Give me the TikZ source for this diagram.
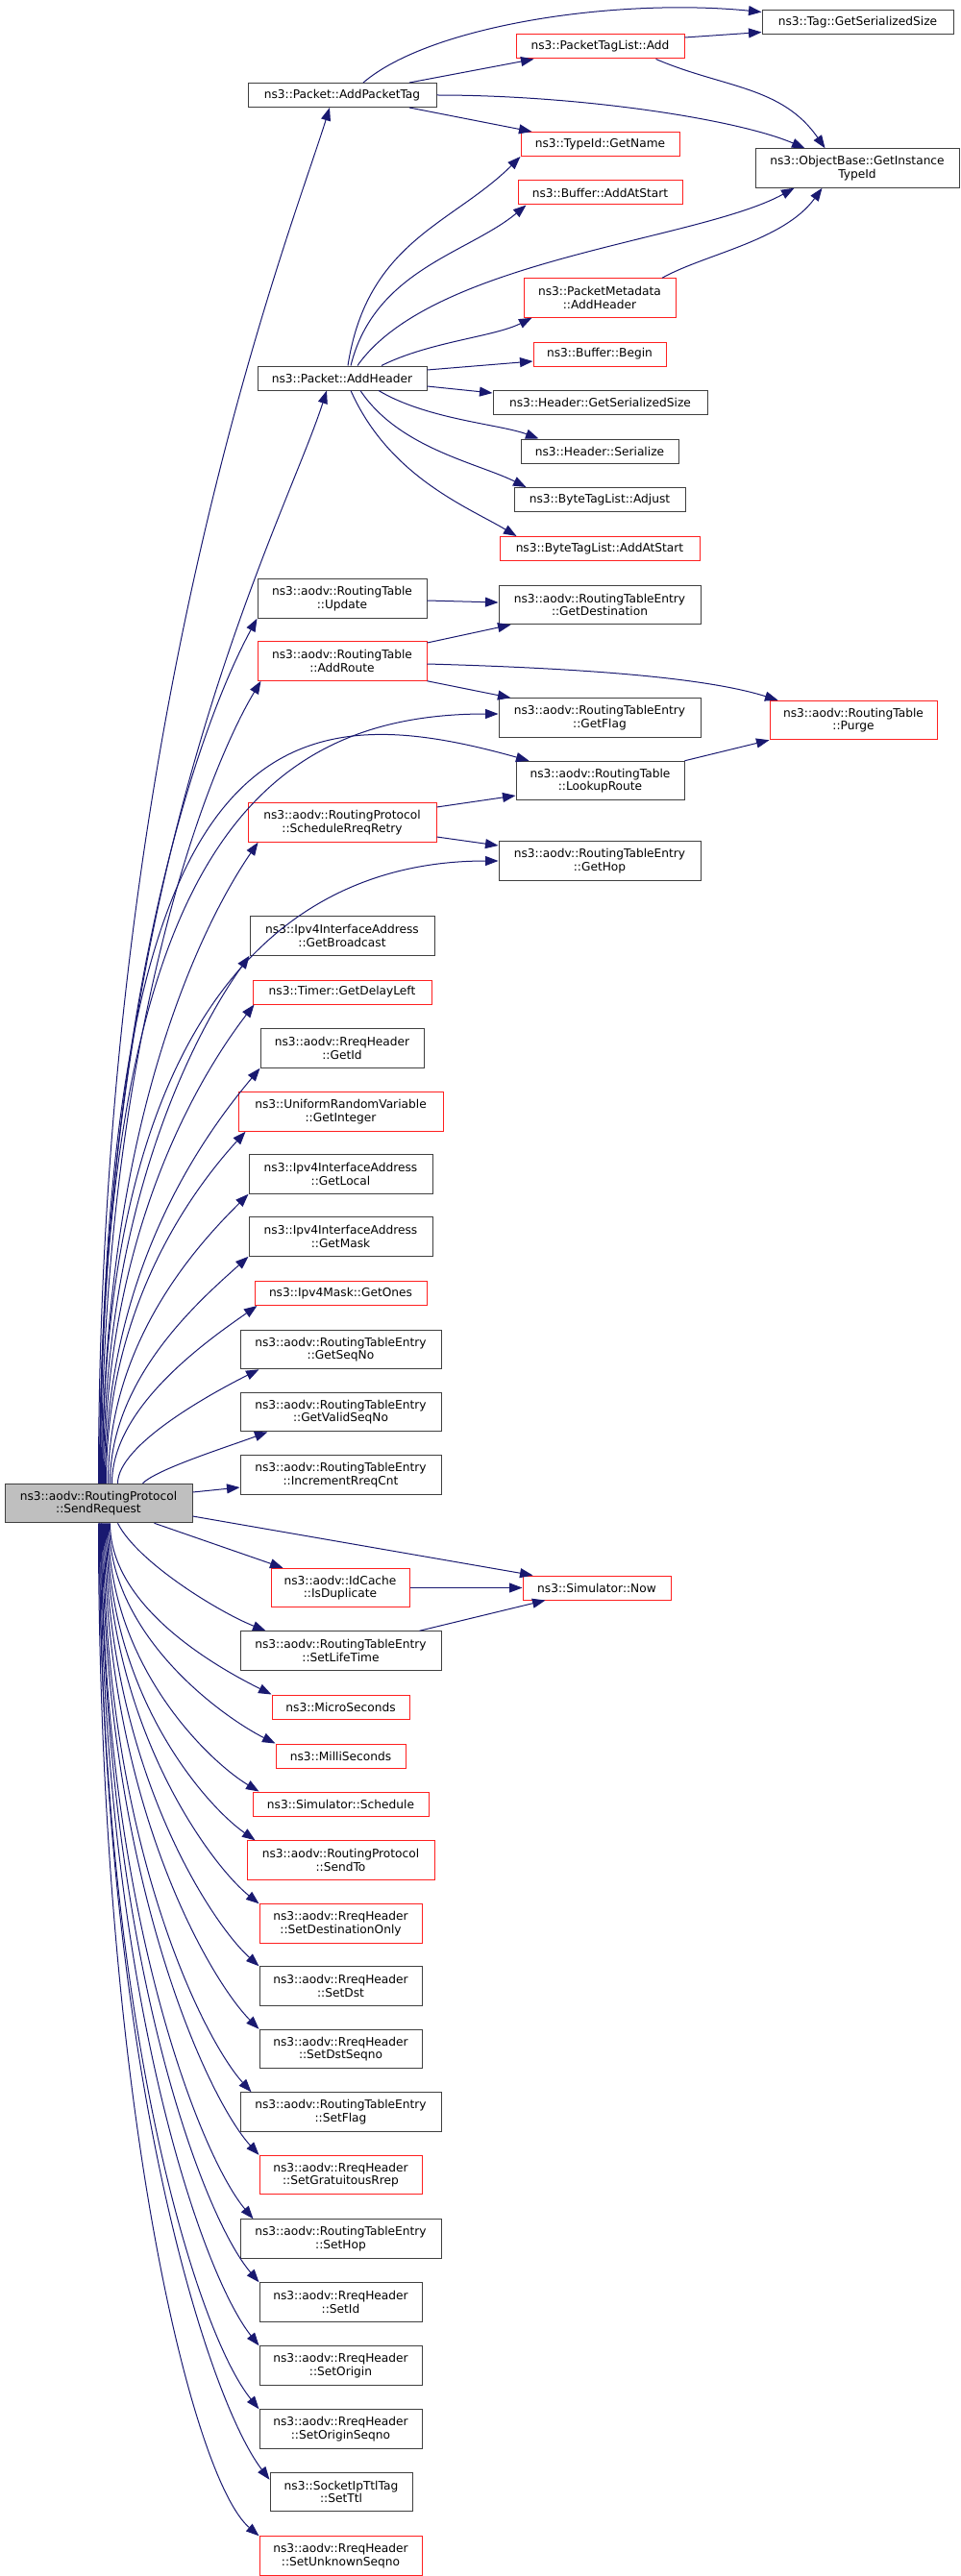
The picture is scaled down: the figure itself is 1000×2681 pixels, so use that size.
\documentclass[tikz,border=0pt]{standalone}
\usepackage{fontspec}
\setmainfont{DejaVu Sans}
\usetikzlibrary{arrows.meta}
\definecolor{edgeblue}{HTML}{191970}
\definecolor{boxgray}{HTML}{BFBFBF}
\definecolor{boxred}{HTML}{FF2020}
\newcommand{\nodefont}{\fontsize{12.2}{13.5}\selectfont}
\tikzset{
  fn/.style={draw=black!75,line width=1pt,inner sep=0pt,minimum height=25pt,align=center,font=\nodefont},
  fnred/.style={fn,draw=boxred},
  fncur/.style={fn,fill=boxgray},
  tall/.style={minimum height=40.5pt},
  call/.style={edgeblue,line width=1pt,-{Triangle[length=13.5pt,width=10pt]}}
}
\begin{document}
\begin{tikzpicture}[x=1pt,y=1pt]
\useasboundingbox (0,0) rectangle (1000,-2681);

%Packet
\begin{scope}
\node[fn,minimum width=199pt] (tagser) at (892.5,-23.5) {ns3::Tag::GetSerializedSize};
\node[fnred,minimum width=175pt] (ptladd) at (624.5,-48.5) {ns3::PacketTagList::Add};
\node[fn,minimum width=196pt] (addtag) at (356,-99) {ns3::Packet::AddPacketTag};
\node[fnred,minimum width=165pt] (getname) at (624.5,-150) {ns3::TypeId::GetName};
\node[fn,tall,minimum width=212pt] (instid) at (892,-175) {ns3::ObjectBase::GetInstance\\TypeId};
\node[fnred,minimum width=171pt] (bufadd) at (624.5,-200.5) {ns3::Buffer::AddAtStart};
\node[fnred,tall,minimum width=158pt] (pmadd) at (624,-310) {ns3::PacketMetadata\\::AddHeader};
\node[fnred,minimum width=138pt] (bufbegin) at (624,-368.5) {ns3::Buffer::Begin};
\node[fn,minimum width=176pt] (addhdr) at (356,-393.5) {ns3::Packet::AddHeader};
\node[fn,minimum width=223pt] (hdrsize) at (624.5,-419) {ns3::Header::GetSerializedSize};
\node[fn,minimum width=164pt] (hdrser) at (624,-469.5) {ns3::Header::Serialize};
\node[fn,minimum width=178pt] (btladj) at (624,-520) {ns3::ByteTagList::Adjust};
\node[fnred,minimum width=208pt] (btladd) at (624,-571) {ns3::ByteTagList::AddAtStart};

\draw[call] ([xshift=22pt]addtag.north) .. controls +(70,60) and +(-150,15) .. ([yshift=-2pt]tagser.north west);
\draw[call] ([xshift=70pt]addtag.north) -- ([xshift=19pt]ptladd.south west);
\draw[call] (addtag.east) .. controls +(150,0) and +(-70,30) .. ([xshift=52pt]instid.north west);
\draw[call] ([xshift=70pt]addtag.south) -- ([xshift=12pt]getname.north west);
\draw[call] ([yshift=9.5pt]ptladd.east) -- ([yshift=3pt]tagser.south west);
\draw[call] ([xshift=58pt]ptladd.south) .. controls +(70,-30) and +(-45,65) .. ([xshift=73pt]instid.north west);
\draw[call] ([xshift=6pt]addhdr.north) .. controls +(20,130) and +(-70,-70) .. (getname.south west);
\draw[call] ([xshift=9pt]addhdr.north) .. controls +(25,100) and +(-60,-50) .. ([xshift=9pt]bufadd.south west);
\draw[call] ([xshift=16pt]addhdr.north) .. controls +(78,111) and +(-100,-55) .. ([xshift=41pt]instid.south west);
\draw[call] ([xshift=65pt]pmadd.north) .. controls +(45,25) and +(-40,-55) .. ([xshift=70pt]instid.south west);
\draw[call] ([xshift=41pt]addhdr.north) .. controls +(50,25) and +(-40,-20) .. ([xshift=9pt]pmadd.south west);
\draw[call] ([yshift=8.5pt]addhdr.east) -- ([yshift=-7.5pt]bufbegin.west);
\draw[call] ([yshift=-8.5pt]addhdr.east) -- ([yshift=10pt]hdrsize.west);
\draw[call] ([xshift=38pt]addhdr.south) .. controls +(50,-30) and +(-40,15) .. ([xshift=19pt]hdrser.north west);
\draw[call] ([xshift=19pt]addhdr.south) .. controls +(40,-60) and +(-50,25) .. ([xshift=13pt]btladj.north west);
\draw[call] ([xshift=9pt]addhdr.south) .. controls +(40,-90) and +(-50,30) .. ([xshift=18pt]btladd.north west);
\end{scope}

%RoutingTable
\begin{scope}
\node[fn,tall,minimum width=176pt] (rtupd) at (356,-623) {ns3::aodv::RoutingTable\\::Update};
\node[fn,tall,minimum width=210pt] (getdest) at (624,-629.5) {ns3::aodv::RoutingTableEntry\\::GetDestination};
\node[fnred,tall,minimum width=176pt] (rtadd) at (356,-688) {ns3::aodv::RoutingTable\\::AddRoute};
\node[fn,tall,minimum width=210pt] (getflag) at (624,-747) {ns3::aodv::RoutingTableEntry\\::GetFlag};
\node[fnred,tall,minimum width=174pt] (purge) at (888,-749.5) {ns3::aodv::RoutingTable\\::Purge};
\node[fn,tall,minimum width=175pt] (lookup) at (624.5,-812.5) {ns3::aodv::RoutingTable\\::LookupRoute};
\node[fnred,tall,minimum width=196pt] (schedretry) at (356,-856) {ns3::aodv::RoutingProtocol\\::ScheduleRreqRetry};
\node[fn,tall,minimum width=210pt] (gethop) at (624,-896) {ns3::aodv::RoutingTableEntry\\::GetHop};

\draw[call] ([yshift=-2pt]rtupd.east) -- ([yshift=2.5pt]getdest.west);
\draw[call] ([yshift=19pt]rtadd.east) -- ([xshift=13pt]getdest.south west);
\draw[call] ([yshift=-3pt]rtadd.east) .. controls +(180,-5) and +(-70,22) .. ([xshift=9pt]purge.north west);
\draw[call] (rtadd.south east) -- ([xshift=13pt]getflag.north west);
\draw[call] (lookup.north east) -- (purge.south west);
\draw[call] ([yshift=16pt]schedretry.east) -- ([yshift=-15.5pt]lookup.west);
\draw[call] ([yshift=-15pt]schedretry.east) -- ([yshift=16pt]gethop.west);
\end{scope}

%left column
\node[fn,tall,minimum width=192pt] (getbcast) at (356,-974) {ns3::Ipv4InterfaceAddress\\::GetBroadcast};
\node[fnred,minimum width=186pt] (delayleft) at (356,-1032.5) {ns3::Timer::GetDelayLeft};
\node[fn,tall,minimum width=170pt] (getid) at (356,-1091) {ns3::aodv::RreqHeader\\::GetId};
\node[fnred,tall,minimum width=213pt] (getint) at (354.5,-1157) {ns3::UniformRandomVariable\\::GetInteger};
\node[fn,tall,minimum width=191pt] (getlocal) at (354.5,-1222) {ns3::Ipv4InterfaceAddress\\::GetLocal};
\node[fn,tall,minimum width=191pt] (getmask) at (354.5,-1287) {ns3::Ipv4InterfaceAddress\\::GetMask};
\node[fnred,minimum width=179pt] (getones) at (354.5,-1346) {ns3::Ipv4Mask::GetOnes};
\node[fn,tall,minimum width=209pt] (getseq) at (354.5,-1404.5) {ns3::aodv::RoutingTableEntry\\::GetSeqNo};
\node[fn,tall,minimum width=209pt] (getvseq) at (354.5,-1469.5) {ns3::aodv::RoutingTableEntry\\::GetValidSeqNo};
\node[fn,tall,minimum width=209pt] (incrreq) at (354.5,-1535) {ns3::aodv::RoutingTableEntry\\::IncrementRreqCnt};
\node[fncur,tall,minimum width=195pt] (sendreq) at (102.5,-1564.5) {ns3::aodv::RoutingProtocol\\::SendRequest};
\node[fnred,minimum width=154pt] (now) at (621,-1652.5) {ns3::Simulator::Now};
\node[fnred,tall,minimum width=144pt] (isdup) at (354,-1652.5) {ns3::aodv::IdCache\\::IsDuplicate};
\node[fn,tall,minimum width=209pt] (setlife) at (354.5,-1718) {ns3::aodv::RoutingTableEntry\\::SetLifeTime};
\node[fnred,minimum width=143pt] (micro) at (354.5,-1776.5) {ns3::MicroSeconds};
\node[fnred,minimum width=135pt] (milli) at (354.5,-1827.5) {ns3::MilliSeconds};
\node[fnred,minimum width=183pt] (sched) at (354.5,-1877.5) {ns3::Simulator::Schedule};
\node[fnred,tall,minimum width=195pt] (sendto) at (354.5,-1936) {ns3::aodv::RoutingProtocol\\::SendTo};
\node[fnred,tall,minimum width=169pt] (setdonly) at (354.5,-2002) {ns3::aodv::RreqHeader\\::SetDestinationOnly};
\node[fn,tall,minimum width=169pt] (setdst) at (354.5,-2067) {ns3::aodv::RreqHeader\\::SetDst};
\node[fn,tall,minimum width=169pt] (setdseq) at (354.5,-2132.5) {ns3::aodv::RreqHeader\\::SetDstSeqno};
\node[fn,tall,minimum width=209pt] (setflag) at (354.5,-2198) {ns3::aodv::RoutingTableEntry\\::SetFlag};
\node[fnred,tall,minimum width=169pt] (setgrat) at (354.5,-2263.5) {ns3::aodv::RreqHeader\\::SetGratuitousRrep};
\node[fn,tall,minimum width=209pt] (sethop) at (354.5,-2330) {ns3::aodv::RoutingTableEntry\\::SetHop};
\node[fn,tall,minimum width=169pt] (setid) at (354.5,-2396) {ns3::aodv::RreqHeader\\::SetId};
\node[fn,tall,minimum width=169pt] (setorig) at (354.5,-2462) {ns3::aodv::RreqHeader\\::SetOrigin};
\node[fn,tall,minimum width=169pt] (setoseq) at (354.5,-2528) {ns3::aodv::RreqHeader\\::SetOriginSeqno};
\node[fn,tall,minimum width=148pt] (setttl) at (355,-2593.5) {ns3::SocketIpTtlTag\\::SetTtl};
\node[fnred,tall,minimum width=169pt] (setunk) at (354.5,-2660) {ns3::aodv::RreqHeader\\::SetUnknownSeqno};

%calls going up
\draw[call] (sendreq.north) .. controls +(0,800) and +(-40,-130) .. ([xshift=-13pt]addtag.south);
\draw[call] ([xshift=1pt]sendreq.north) .. controls +(0,650) and +(-45,-140) .. ([xshift=-16pt]addhdr.south);
\draw[call] ([xshift=2pt]sendreq.north) .. controls +(0,500) and +(-60,-110) .. (rtupd.south west);
\draw[call] ([xshift=3pt]sendreq.north) .. controls +(0,450) and +(-60,-100) .. ([xshift=4pt]rtadd.south west);
\draw[call] ([xshift=1.5pt]sendreq.north) .. controls +(0,650) and +(-250,0) .. ([yshift=4pt]getflag.west);
\draw[call] ([xshift=2pt]sendreq.north) .. controls +(0,800) and +(-250,70) .. ([xshift=14pt]lookup.north west);
\draw[call] ([xshift=4pt]sendreq.north) .. controls +(0,380) and +(-55,-80) .. ([xshift=11pt]schedretry.south west);
\draw[call] ([xshift=4pt]sendreq.north) .. controls +(0,450) and +(-250,0) .. (gethop.west);
\draw[call] ([xshift=5pt]sendreq.north) .. controls +(0,300) and +(-50,-70) .. (getbcast.south west);
\draw[call] ([xshift=6pt]sendreq.north) .. controls +(0,270) and +(-50,-65) .. ([xshift=2pt]delayleft.south west);
\draw[call] ([xshift=7pt]sendreq.north) .. controls +(0,230) and +(-50,-60) .. (getid.south west);
\draw[call] ([xshift=8pt]sendreq.north) .. controls +(0,190) and +(-50,-55) .. ([xshift=8pt]getint.south west);
\draw[call] ([xshift=10pt]sendreq.north) .. controls +(0,150) and +(-50,-50) .. (getlocal.south west);
\draw[call] ([xshift=12pt]sendreq.north) .. controls +(0,110) and +(-50,-45) .. (getmask.south west);
\draw[call] ([xshift=14pt]sendreq.north) .. controls +(0,80) and +(-50,-35) .. ([xshift=3pt]getones.south west);
\draw[call] ([xshift=20pt]sendreq.north) .. controls +(0,40) and +(-50,-25) .. ([xshift=20pt]getseq.south west);
\draw[call] ([xshift=46pt]sendreq.north) .. controls +(15,15) and +(-40,-15) .. ([xshift=29pt]getvseq.south west);
\draw[call] ([yshift=11.5pt]sendreq.east) -- ([yshift=-13pt]incrreq.west);

%calls going down
\draw[call] ([yshift=-13.5pt]sendreq.east) -- ([xshift=11pt]now.north west);
\draw[call] ([xshift=58pt]sendreq.south) -- ([xshift=13pt]isdup.north west);
\draw[call] (isdup.east) -- (now.west);
\draw[call] ([xshift=-23pt]setlife.north east) -- ([xshift=24pt]now.south west);
\draw[call] ([xshift=20pt]sendreq.south) .. controls +(20,-40) and +(-50,20) .. ([xshift=27pt]setlife.north west);
\draw[call] ([xshift=12pt]sendreq.south) .. controls +(0,-90) and +(-50,25) .. (micro.north west);
\draw[call] ([xshift=11pt]sendreq.south) .. controls +(0,-120) and +(-50,25) .. (milli.north west);
\draw[call] ([xshift=10pt]sendreq.south) .. controls +(0,-150) and +(-50,30) .. ([xshift=7pt]sched.north west);
\draw[call] ([xshift=9pt]sendreq.south) .. controls +(0,-180) and +(-50,35) .. ([xshift=9pt]sendto.north west);
\draw[call] ([xshift=8pt]sendreq.south) .. controls +(0,-210) and +(-50,40) .. (setdonly.north west);
\draw[call] ([xshift=7pt]sendreq.south) .. controls +(0,-250) and +(-50,45) .. (setdst.north west);
\draw[call] ([xshift=6pt]sendreq.south) .. controls +(0,-290) and +(-50,50) .. (setdseq.north west);
\draw[call] ([xshift=5pt]sendreq.south) .. controls +(0,-330) and +(-50,55) .. ([xshift=12pt]setflag.north west);
\draw[call] ([xshift=4pt]sendreq.south) .. controls +(0,-360) and +(-55,60) .. (setgrat.north west);
\draw[call] ([xshift=3pt]sendreq.south) .. controls +(0,-400) and +(-55,65) .. ([xshift=14pt]sethop.north west);
\draw[call] ([xshift=3pt]sendreq.south) .. controls +(0,-440) and +(-60,70) .. (setid.north west);
\draw[call] ([xshift=2pt]sendreq.south) .. controls +(0,-480) and +(-60,75) .. (setorig.north west);
\draw[call] ([xshift=1pt]sendreq.south) .. controls +(0,-520) and +(-65,80) .. (setoseq.north west);
\draw[call] ([xshift=1pt]sendreq.south) .. controls +(0,-560) and +(-65,85) .. ([yshift=-8pt]setttl.north west);
\draw[call] (sendreq.south) .. controls +(0,-600) and +(-70,60) .. (setunk.north west);

\end{tikzpicture}
\end{document}
